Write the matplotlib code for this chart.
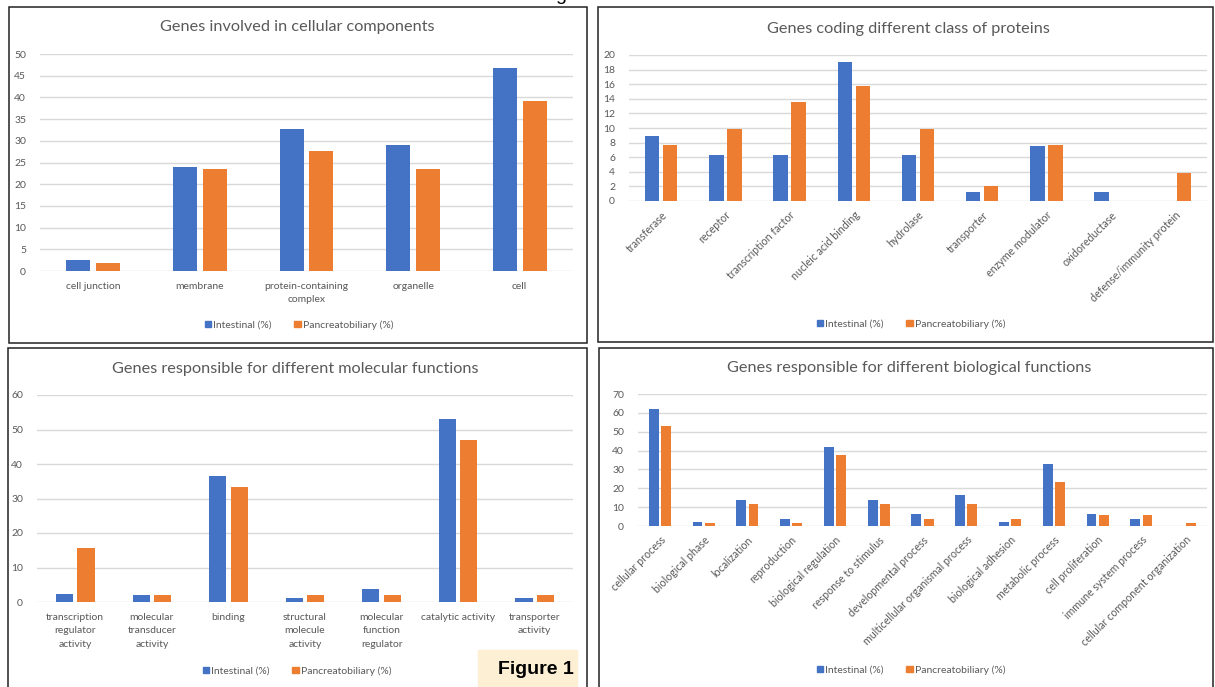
import numpy as np
import matplotlib
matplotlib.use("Agg")
import matplotlib.pyplot as plt
from matplotlib.patches import Rectangle

W, H = 1215, 687

# cellular components
cc_cats = ["cell junction", "membrane", "protein-containing\ncomplex", "organelle", "cell"]
cc_int = [2.6, 24.0, 32.8, 29.0, 46.8]
cc_pan = [1.8, 23.5, 27.6, 23.5, 39.2]

# protein classes
pc_cats = ["transferase", "receptor", "transcription factor", "nucleic acid binding",
           "hydrolase", "transporter", "enzyme modulator", "oxidoreductase",
           "defense/immunity protein"]
pc_int = [8.9, 6.3, 6.3, 19.0, 6.3, 1.3, 7.5, 1.3, 0]
pc_pan = [7.7, 9.8, 13.6, 15.7, 9.8, 2.0, 7.7, 0, 3.9]

# molecular functions
mf_cats = ["transcription\nregulator\nactivity", "molecular\ntransducer\nactivity", "binding",
           "structural\nmolecule\nactivity", "molecular\nfunction\nregulator",
           "catalytic activity", "transporter\nactivity"]
mf_int = [2.3, 1.9, 36.5, 1.2, 3.8, 53.1, 1.2]
mf_pan = [15.6, 1.9, 33.3, 1.9, 1.9, 46.9, 1.9]

# biological functions
bf_cats = ["cellular process", "biological phase", "localization", "reproduction",
           "biological regulation", "response to stimulus", "developmental process",
           "multicellular organismal process", "biological adhesion", "metabolic process",
           "cell proliferation", "immune system process", "cellular component organization"]
bf_int = [62.3, 2.3, 13.8, 3.5, 42.1, 13.8, 6.2, 16.4, 2.3, 32.8, 6.2, 3.5, 0]
bf_pan = [53.0, 1.5, 11.7, 1.5, 37.7, 11.7, 3.8, 11.7, 3.8, 23.3, 5.6, 5.6, 1.5]

BLUE = "#4472C4"
ORANGE = "#ED7D31"
GREY = "#595959"
GRID = "#D9D9D9"

plt.rcParams["font.family"] = ["Lato", "DejaVu Sans"]

fig = plt.figure(figsize=(W / 100, H / 100), dpi=100)
fig.patch.set_facecolor("white")


def px_box(x0, y0, x1, y1):
    return [x0 / W, 1 - y1 / H, (x1 - x0) / W, (y1 - y0) / H]


def frame(x0, y0, x1, y1):
    fig.add_artist(Rectangle((x0 / W, 1 - y1 / H), (x1 - x0) / W, (y1 - y0) / H,
                             transform=fig.transFigure, fill=False,
                             edgecolor="#222222", linewidth=1.1))


def panel(area, cats, a, b, ymax, step, title, title_xy, legend_xy, rotate=False):
    ax = fig.add_axes(px_box(*area))
    x = np.arange(len(cats))
    ax.bar(x - 0.14, a, width=0.225, color=BLUE, zorder=3)
    ax.bar(x + 0.14, b, width=0.225, color=ORANGE, zorder=3)
    ax.set_xlim(-0.5, len(cats) - 0.5)
    ax.set_ylim(0, ymax)
    ax.set_yticks(np.arange(0, ymax + 0.1, step))
    ax.yaxis.grid(True, color=GRID, linewidth=1.0, zorder=0)
    for s in ax.spines.values():
        s.set_visible(False)
    ax.tick_params(length=0, labelsize=7.5, colors=GREY, pad=10)
    ax.set_xticks(x)
    if rotate:
        ax.set_xticklabels(cats, rotation=45, ha="right", va="top",
                           rotation_mode="anchor", fontsize=7.7)
        ax.tick_params(axis="x", pad=6)
    else:
        ax.set_xticklabels(cats, linespacing=1.6)
        ax.tick_params(axis="x", pad=8)
    fig.text(title_xy[0] / W, 1 - title_xy[1] / H, title, ha="center", va="center",
             fontsize=11.7, color=GREY)
    h1 = Rectangle((0, 0), 1, 1, color=BLUE)
    h2 = Rectangle((0, 0), 1, 1, color=ORANGE)
    fig.legend([h1, h2], ["Intestinal (%)", "Pancreatobiliary (%)"],
               loc="center", bbox_to_anchor=(legend_xy[0] / W, 1 - legend_xy[1] / H),
               ncol=2, frameon=False, fontsize=7.5, labelcolor=GREY,
               handlelength=0.6, handleheight=0.6, handletextpad=0.2,
               columnspacing=2.2)
    return ax


# panel frames
frame(9, 7, 587, 343)
frame(598, 7, 1213, 342)
frame(8, 348, 587, 690)
frame(599, 348, 1213, 690)

panel((40, 54, 573, 271), cc_cats, cc_int, cc_pan, 50, 5,
      "Genes involved in cellular components", (297, 27), (299, 325))
panel((629, 55, 1207, 201), pc_cats, pc_int, pc_pan, 20, 2,
      "Genes coding different class of proteins", (908, 29), (911, 324), rotate=True)
panel((37, 395, 573, 602), mf_cats, mf_int, mf_pan, 60, 10,
      "Genes responsible for different molecular functions", (295, 369), (297, 671))
panel((638, 394, 1207, 526), bf_cats, bf_int, bf_pan, 70, 10,
      "Genes responsible for different biological functions", (909, 368), (911, 670),
      rotate=True)

# figure label
fig.add_artist(Rectangle((478 / W, 0), (577 - 478) / W, (687 - 650) / H,
                         transform=fig.transFigure, color="#FCEFD3", zorder=5))
fig.text(574 / W, 1 - 669 / H, "Figure 1", ha="right", va="center", fontsize=14,
         fontweight="bold", family=["Liberation Sans", "DejaVu Sans"], zorder=6)

# descender of a heading running off the top edge
fig.text(555 / W, 1 + 0.5 / H, "g", ha="left", va="baseline", fontsize=14,
         family=["Liberation Sans", "DejaVu Sans"])

fig.savefig("out.png", dpi=100)
